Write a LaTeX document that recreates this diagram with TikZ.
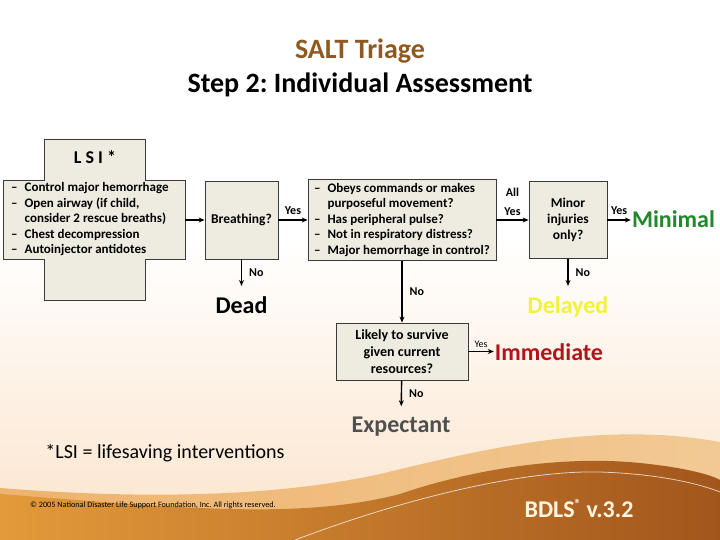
\documentclass[tikz,border=0pt]{standalone}
\usepackage{fontspec}
\setmainfont{Carlito}
\usetikzlibrary{positioning, arrows.meta}
\frenchspacing
\definecolor{saltBrown}{HTML}{8E5A22}
\definecolor{boxFill}{HTML}{EEECE1}
\definecolor{boxLine}{HTML}{3A3A3A}
\definecolor{minGreen}{HTML}{22892A}
\definecolor{delYellow}{HTML}{F2F23A}
\definecolor{immRed}{HTML}{B3141C}
\definecolor{expGray}{HTML}{4F4F4F}
\definecolor{bgPeach}{HTML}{FBE4CB}
\definecolor{waveTanL}{HTML}{EEB36C}
\definecolor{waveTan}{HTML}{F2C995}
\definecolor{waveOrange}{HTML}{E39A3A}
\definecolor{waveBrown}{HTML}{A2561C}
\definecolor{bdlsCream}{HTML}{FFF6E4}

\begin{document}
\begin{tikzpicture}[x=1pt, y=-1pt,
    qbox/.style={draw=boxLine, fill=boxFill, line width=0.8pt, inner sep=2pt,
      align=center, font=\bfseries\fontsize{13.5}{16}\selectfont},
    outcome/.style={font=\bfseries\fontsize{24}{28}\selectfont, anchor=base,
      inner xsep=1pt, inner ysep=10pt},
    lbl/.style={font=\bfseries\fontsize{12}{14}\selectfont, inner sep=2pt},
    arr/.style={-{Stealth[length=6pt, width=5pt]}, line width=1.4pt}]

  % background with the waves at the foot
  \useasboundingbox (0,0) rectangle (720,540);
  \fill[white] (0,0) rectangle (720,540);
  \shade[top color=white, bottom color=bgPeach] (0,240) rectangle (720,540);
  \shade[left color=waveTanL, right color=waveTan]
    (0,488) .. controls (150,500) and (280,496) .. (380,474)
    .. controls (480,450) and (600,420) .. (720,442)
    -- (720,540) -- (0,540) -- cycle;
  \shade[left color=waveOrange, right color=waveBrown]
    (0,494) .. controls (180,508) and (300,520) .. (400,494)
    .. controls (470,470) and (560,455) .. (640,463)
    .. controls (680,467) and (710,474) .. (720,480)
    -- (720,540) -- (0,540) -- cycle;
  \draw[white, opacity=0.7, line width=0.8pt]
    (295,540) .. controls (400,500) and (520,470) .. (600,472)
    .. controls (660,474) and (700,484) .. (720,492);

  % title
  \node[font=\bfseries\fontsize{28}{32}\selectfont, text=saltBrown, anchor=base]
    (title) at (360,59) {SALT Triage};
  \node[font=\bfseries\fontsize{28}{32}\selectfont, anchor=base]
    (subtitle) at (360,93) {Step 2: Individual Assessment};

  % LSI cross
  \draw[draw=boxLine, fill=boxFill, line width=0.8pt]
    (44,139) -- (145,139) -- (145,180) -- (185,180) -- (185,259) -- (145,259)
    -- (145,300) -- (44,300) -- (44,259) -- (3,259) -- (3,180) -- (44,180) -- cycle;
  \node[font=\bfseries\fontsize{18}{20}\selectfont] (lsihead) at (95,157) {L S I *};
  \node[anchor=west, inner sep=0pt, font=\bfseries\fontsize{13}{15.5}\selectfont]
    (lsilist) at (11,219.5) {\begin{tabular}{@{}l@{\hspace{7pt}}l@{}}
      -- & Control major hemorrhage\\
      -- & Open airway (if child,\\
         & consider 2 rescue breaths)\\
      -- & Chest decompression\\
      -- & Autoinjector antidotes
    \end{tabular}};
  \coordinate (lsiout) at (185,220);

  % questions
  \node[qbox, minimum width=73pt, minimum height=78pt] (breath) at (241.5,220) {Breathing?};
  \node[qbox, minimum width=188pt, minimum height=80pt,
    font=\bfseries\fontsize{13}{15.5}\selectfont] (assess) at (402,220)
    {\begin{tabular}{@{}l@{\hspace{7pt}}l@{}}
      -- & Obeys commands or makes\\
         & purposeful movement?\\
      -- & Has peripheral pulse?\\
      -- & Not in respiratory distress?\\
      -- & Major hemorrhage in control?
    \end{tabular}};
  \node[qbox, minimum width=78pt, minimum height=77pt] (minor) at (568,220) {Minor\\injuries\\only?};
  \node[qbox, minimum width=132pt, minimum height=57pt,
    font=\bfseries\fontsize{14}{17}\selectfont] (likely) at (402,351.5)
    {Likely to survive\\given current\\resources?};

  % categories
  \node[outcome, text=minGreen] (minimal) at (673.5,227) {Minimal};
  \node[outcome] (dead) at (241.5,313) {Dead};
  \node[outcome, text=delYellow] (delayed) at (568,313) {Delayed};
  \node[outcome, text=immRed] (immediate) at (549,360) {Immediate};
  \node[outcome, text=expGray] (expectant) at (401,432) {Expectant};

  \draw[arr] (lsiout) -- (breath);
  \draw[arr] (breath) -- node[lbl, above=3pt] (yes1) {Yes} (assess);
  \draw[arr] (assess) -- node[lbl, above=2pt, align=center,
    font=\bfseries\fontsize{12}{19}\selectfont] (allyes) {All\\Yes} (minor);
  \draw[arr] (minor.east) -- node[lbl, above=3pt] (yes2) {Yes} (minor.east -| minimal.west);
  \draw[arr] (breath) -- node[lbl, right=5pt] (no1) {No} (dead);
  \draw[arr] (assess) -- node[lbl, right=5pt] (no2) {No} (likely);
  \draw[arr] (minor) -- node[lbl, right=5pt] (no3) {No} (delayed);
  \draw[arr] (likely.east) -- node[font=\fontsize{10}{12}\selectfont, inner sep=1pt,
    above=2pt] (yes3) {Yes} (likely.east -| immediate.west);
  \draw[arr] (likely) -- node[lbl, right=5pt] (no4) {No} (expectant);

  % footer
  \node[font=\fontsize{20}{22}\selectfont, anchor=base] (lsinote) at (165,458)
    {*LSI = lifesaving interventions};
  \node[font=\fontsize{8.2}{9}\selectfont, anchor=base] (copyright) at (153,507)
    {© 2005 National Disaster Life Support Foundation, Inc. All rights reserved.};
  \node[font=\bfseries\fontsize{24}{28}\selectfont, text=bdlsCream, anchor=base]
    (bdls) at (579,517) {BDLS\raisebox{0.75ex}{\fontsize{13}{13}\selectfont ®} v.3.2};
\end{tikzpicture}
\end{document}
